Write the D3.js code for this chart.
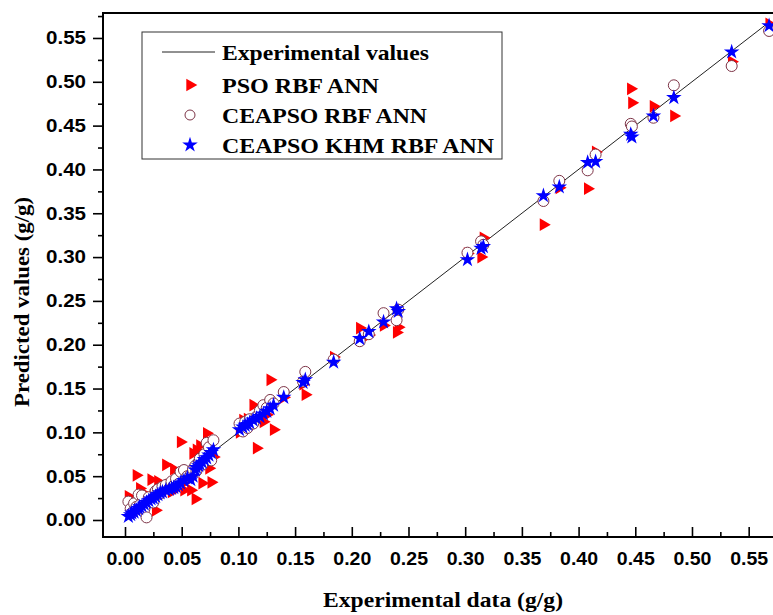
<!DOCTYPE html>
<html>
<head>
<meta charset="utf-8">
<script src="https://cdn.jsdelivr.net/npm/d3@7"></script>
<style>
  body { margin: 0; background: #fff; }
</style>
</head>
<body>
<div id="chart"></div>
<script>
// experimental data (x) and the three model predictions (y)
let experimental = [
  0.003, 0.005, 0.006, 0.008, 0.010, 0.012, 0.013, 0.015, 0.017, 0.019, 0.021, 0.023, 0.025, 0.027, 0.029, 0.031,
  0.033, 0.036, 0.039, 0.041, 0.043, 0.045, 0.047, 0.049, 0.052, 0.055,
  0.058, 0.060, 0.062, 0.063, 0.065, 0.066, 0.068, 0.070, 0.072, 0.074, 0.076, 0.078,
  0.101, 0.104, 0.106, 0.108, 0.110, 0.113, 0.116, 0.119, 0.122, 0.125, 0.128, 0.131, 0.140,
  0.157, 0.159, 0.184, 0.207, 0.215, 0.228, 0.2395, 0.241, 0.302, 0.314, 0.316, 0.369, 0.383,
  0.408, 0.415, 0.446, 0.447, 0.466, 0.484, 0.535, 0.568
];
let psoRbf = [
  0.027, 0.012, 0.010, 0.020, 0.051, 0.020, 0.036, 0.015, 0.030, 0.018, 0.022, 0.046, 0.028, 0.011, 0.044, 0.030,
  0.036, 0.063, 0.040, 0.032, 0.058, 0.036, 0.040, 0.089, 0.034, 0.045,
  0.034, 0.076, 0.024, 0.080, 0.060, 0.085, 0.042, 0.065, 0.099, 0.059, 0.043, 0.072,
  0.100, 0.114, 0.105, 0.115, 0.112, 0.131, 0.082, 0.117, 0.112, 0.120, 0.160, 0.103, 0.140,
  0.155, 0.143, 0.186, 0.219, 0.211, 0.222, 0.214, 0.220, 0.304, 0.300, 0.322, 0.337, 0.379,
  0.378, 0.420, 0.492, 0.476, 0.472, 0.461, 0.523, 0.566
];
let ceapsoRbf = [
  0.021, 0.013, 0.008, 0.019, 0.015, 0.029, 0.017, 0.028, 0.012, 0.003, 0.026, 0.022, 0.020, 0.033, 0.035, 0.030,
  0.038, 0.040, 0.036, 0.044, 0.039, 0.047, 0.041, 0.055, 0.057, 0.050,
  0.052, 0.058, 0.062, 0.056, 0.066, 0.070, 0.063, 0.075, 0.088, 0.083, 0.068, 0.091,
  0.110, 0.101, 0.112, 0.105, 0.115, 0.110, 0.118, 0.125, 0.131, 0.128, 0.137, 0.133, 0.146,
  0.158, 0.169, 0.183, 0.204, 0.212, 0.236, 0.228, 0.240, 0.305, 0.318, 0.314, 0.364, 0.387,
  0.399, 0.417, 0.452, 0.449, 0.459, 0.496, 0.518, 0.558
];
let ceapsoKhm = [
  0.004, 0.006, 0.008, 0.009, 0.011, 0.013, 0.015, 0.016, 0.018, 0.020, 0.022, 0.024, 0.025, 0.027, 0.029, 0.031,
  0.032, 0.034, 0.035, 0.036, 0.037, 0.038, 0.040, 0.042, 0.045, 0.048,
  0.046, 0.050, 0.057, 0.060, 0.062, 0.064, 0.066, 0.069, 0.071, 0.074, 0.077, 0.080,
  0.103, 0.106, 0.108, 0.109, 0.111, 0.114, 0.116, 0.118, 0.121, 0.124, 0.127, 0.131, 0.140,
  0.157, 0.160, 0.180, 0.207, 0.215, 0.226, 0.241, 0.238, 0.297, 0.310, 0.312, 0.370, 0.380,
  0.408, 0.409, 0.440, 0.437, 0.461, 0.482, 0.534, 0.564
];

let tickValues = [0, 0.05, 0.10, 0.15, 0.20, 0.25, 0.30, 0.35, 0.40, 0.45, 0.50, 0.55];
let minorTicks = [0.025, 0.075, 0.125, 0.175, 0.225, 0.275, 0.325, 0.375, 0.425, 0.475, 0.525, 0.575];
let legendLabels = ["Experimental values", "PSO RBF ANN", "CEAPSO RBF ANN", "CEAPSO KHM RBF ANN"];
let legendWidths = [207, 157, 205, 272];

let w = 773;
let h = 615;
let plotLeft = 103, plotTop = 13, plotRight = 781, plotBottom = 537;

let serif = "'Liberation Serif', 'Times New Roman', serif";
let sans = "'Liberation Sans', Arial, sans-serif";

let viz = d3.select("#chart")
  .append("svg")
  .attr("width", w)
  .attr("height", h)
;

let xScale = d3.scaleLinear().domain([-0.0194, 0.5785]).range([plotLeft, plotRight]);
let yScale = d3.scaleLinear().domain([-0.0194, 0.5785]).range([plotBottom, plotTop]);

let fmt = d3.format(".2f");

// x axis: ticks point into the plot
let xAxisGroup = viz.append("g").attr("transform", "translate(0," + plotBottom + ")");
xAxisGroup.call(d3.axisBottom(xScale).tickValues(tickValues).tickSize(-10).tickPadding(15).tickFormat(fmt));
let xMinorGroup = viz.append("g").attr("transform", "translate(0," + plotBottom + ")");
xMinorGroup.call(d3.axisBottom(xScale).tickValues(minorTicks).tickSize(-5).tickFormat(""));

// y axis: ticks point outwards
let yAxisGroup = viz.append("g").attr("transform", "translate(" + plotLeft + ",0)");
yAxisGroup.call(d3.axisLeft(yScale).tickValues(tickValues).tickSize(10).tickPadding(7).tickFormat(fmt));
let yMinorGroup = viz.append("g").attr("transform", "translate(" + plotLeft + ",0)");
yMinorGroup.call(d3.axisLeft(yScale).tickValues(minorTicks).tickSize(5).tickFormat(""));

[xAxisGroup, xMinorGroup, yAxisGroup, yMinorGroup].forEach(g => {
  g.select(".domain").remove();
  g.selectAll(".tick line").attr("stroke", "#000").attr("stroke-width", 1.6);
  g.selectAll(".tick text")
    .attr("fill", "#000")
    .style("font-family", sans)
    .style("font-weight", "bold")
    .style("font-size", "18.5px");
});
// the picture is a little wider than the fonts, stretch the labels
xAxisGroup.selectAll(".tick text").attr("textLength", 38).attr("lengthAdjust", "spacingAndGlyphs");
yAxisGroup.selectAll(".tick text").attr("textLength", 40).attr("lengthAdjust", "spacingAndGlyphs");

// frame
viz.append("rect")
  .attr("x", plotLeft)
  .attr("y", plotTop)
  .attr("width", plotRight - plotLeft)
  .attr("height", plotBottom - plotTop)
  .attr("fill", "none")
  .attr("stroke", "#000")
  .attr("stroke-width", 2)
;

// experimental line y = x
let points = experimental.map((d, i) => ({x: d, pso: psoRbf[i], ce: ceapsoRbf[i], khm: ceapsoKhm[i]}));

let line = d3.line().x(d => xScale(d.x)).y(d => yScale(d.x));
viz.append("path")
  .datum(points)
  .attr("d", line)
  .attr("fill", "none")
  .attr("stroke", "#222")
  .attr("stroke-width", 1)
;

let triangle = d3.symbol().type(d3.symbolTriangle).size(70);
let star = d3.symbol().type(d3.symbolStar).size(75);

viz.selectAll(".pso").data(points).enter()
  .append("path")
  .attr("class", "pso")
  .attr("d", triangle)
  .attr("transform", d => "translate(" + xScale(d.x) + "," + yScale(d.pso) + ") rotate(90)")
  .attr("fill", "#ff0000")
;

viz.selectAll(".ce").data(points).enter()
  .append("circle")
  .attr("class", "ce")
  .attr("cx", d => xScale(d.x))
  .attr("cy", d => yScale(d.ce))
  .attr("r", 5.5)
  .attr("fill", "#fff")
  .attr("stroke", "#7d3447")
  .attr("stroke-width", 1)
;

viz.selectAll(".khm").data(points).enter()
  .append("path")
  .attr("class", "khm")
  .attr("d", star)
  .attr("transform", d => "translate(" + xScale(d.x) + "," + yScale(d.khm) + ")")
  .attr("fill", "#0000ff")
;

// legend
let legend = viz.append("g");
legend.append("rect")
  .attr("x", 142).attr("y", 32)
  .attr("width", 360).attr("height", 127)
  .attr("fill", "#fff")
  .attr("stroke", "#333")
  .attr("stroke-width", 1)
;
let rowY = [52, 85, 115, 145];
legend.append("line")
  .attr("x1", 162).attr("x2", 215)
  .attr("y1", rowY[0]).attr("y2", rowY[0])
  .attr("stroke", "#222").attr("stroke-width", 1);
legend.append("path")
  .attr("d", triangle)
  .attr("transform", "translate(190," + rowY[1] + ") rotate(90)")
  .attr("fill", "#ff0000");
legend.append("circle")
  .attr("cx", 190).attr("cy", rowY[2]).attr("r", 5)
  .attr("fill", "#fff").attr("stroke", "#7d3447");
legend.append("path")
  .attr("d", star)
  .attr("transform", "translate(190," + rowY[3] + ")")
  .attr("fill", "#0000ff");

legend.selectAll(".legtext").data(legendLabels).enter()
  .append("text")
  .attr("class", "legtext")
  .attr("x", 222)
  .attr("y", (d, i) => rowY[i] + 8)
  .attr("textLength", (d, i) => legendWidths[i])
  .attr("lengthAdjust", "spacingAndGlyphs")
  .style("font-family", serif)
  .style("font-weight", "bold")
  .style("font-size", "21px")
  .text(d => d)
;

// axis titles
viz.append("text")
  .attr("x", 443)
  .attr("y", 607)
  .attr("text-anchor", "middle")
  .attr("textLength", 240)
  .attr("lengthAdjust", "spacingAndGlyphs")
  .style("font-family", serif)
  .style("font-weight", "bold")
  .style("font-size", "21px")
  .text("Experimental data (g/g)")
;

viz.append("text")
  .attr("transform", "translate(29,302) rotate(-90)")
  .attr("text-anchor", "middle")
  .attr("textLength", 210)
  .attr("lengthAdjust", "spacingAndGlyphs")
  .style("font-family", serif)
  .style("font-weight", "bold")
  .style("font-size", "21px")
  .text("Predicted values (g/g)")
;
</script>
</body>
</html>
